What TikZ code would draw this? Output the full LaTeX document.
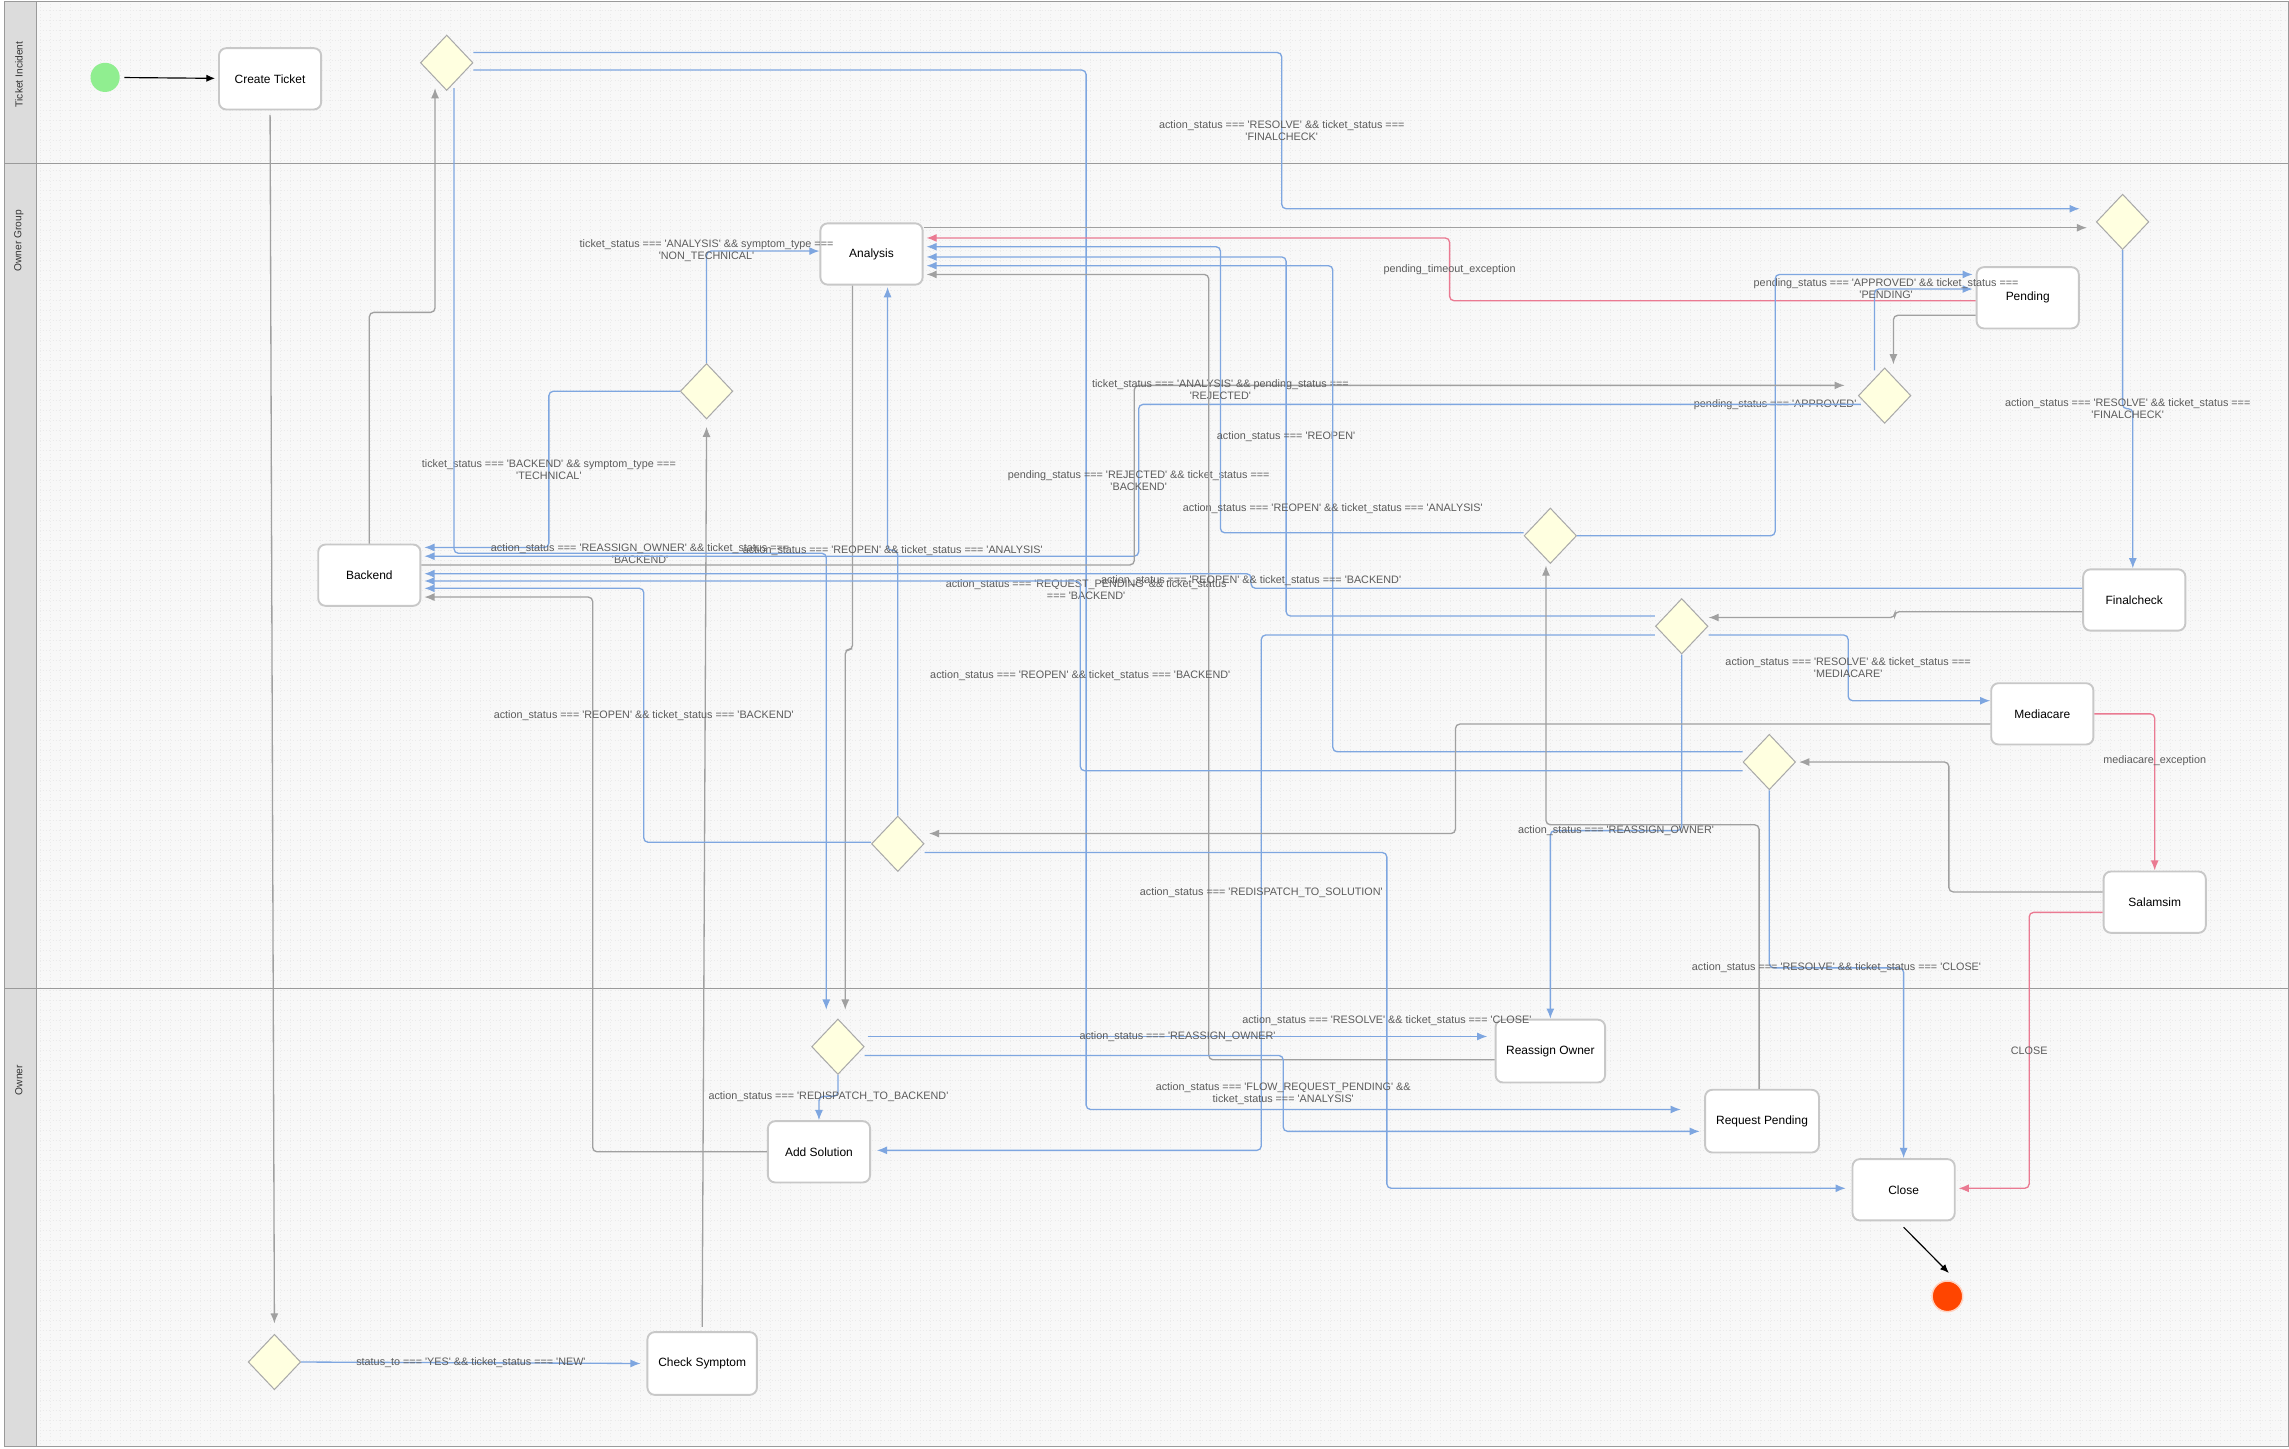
\documentclass[tikz,border=0pt]{standalone}
\usepackage{fontspec}
\setmainfont{Liberation Sans}
\usetikzlibrary{shapes.geometric,arrows.meta,calc}
\definecolor{edgeblue}{HTML}{7EA6E0}
\definecolor{edgegray}{HTML}{A0A0A0}
\definecolor{edgered}{HTML}{EA7A92}
\definecolor{labelgray}{HTML}{5C5C5C}
\definecolor{choicefill}{HTML}{FFFFE0}
\definecolor{choiceline}{HTML}{A9A9A9}
\definecolor{stateline}{HTML}{C8C8C8}
\definecolor{lanefill}{HTML}{DCDCDC}
\definecolor{laneline}{HTML}{9A9A9A}
\definecolor{canvas}{HTML}{F8F8F8}
\definecolor{startgreen}{HTML}{90EE90}
\definecolor{endred}{HTML}{FF4500}
\newcommand\sqt[1]{\textquotesingle#1\textquotesingle}
\newcommand\lblsize{\fontsize{7.4}{8.3}\selectfont}

\tikzset{
  state/.style={draw=stateline, line width=1.3pt, fill=white, rounded corners=5pt,
    minimum width=70pt, minimum height=42pt, inner sep=0pt, font=\fontsize{8.2}{9}\selectfont},
  choice/.style={diamond, draw=choiceline, line width=0.7pt, fill=choicefill,
    minimum width=36pt, minimum height=38pt, inner sep=0pt},
  lanetext/.style={rotate=90, font=\fontsize{7}{8}\selectfont, text=black!80},
  lbl/.style={font=\lblsize, text=labelgray, align=center, inner sep=0pt},
  gridline/.style={step=6.85pt, draw=black!8, line width=0.3pt, dash pattern=on 0.5pt off 1.7pt},
  bedge/.style={draw=edgeblue, line width=0.9pt, rounded corners=3pt, -{Latex[length=7pt,width=5.5pt]}},
  gedge/.style={draw=edgegray, line width=0.9pt, rounded corners=3pt, -{Latex[length=7pt,width=5.5pt]}},
  redge/.style={draw=edgered, line width=0.9pt, rounded corners=3pt, -{Latex[length=7pt,width=5.5pt]}},
  kedge/.style={draw=black, line width=0.8pt, -{Latex[length=6pt,width=5pt]}},
}

\begin{document}
\begin{tikzpicture}[x=1pt,y=-1pt]
        \useasboundingbox (0,0) rectangle (1568,992);
        \fill[white] (0,0) rectangle (1568,992);
        \fill[canvas] (3,1) rectangle (1568,991);
        \draw[gridline] (25,1) grid (1568,991);

        % swimlanes
        \draw[laneline, line width=0.8pt, fill=lanefill] (3,1) rectangle (25,112);
        \draw[laneline, line width=0.8pt, fill=lanefill] (3,112) rectangle (25,677);
        \draw[laneline, line width=0.8pt, fill=lanefill] (3,677) rectangle (25,991);
        \draw[laneline, line width=0.8pt] (3,1) rectangle (1568,991);
        \draw[laneline, line width=0.8pt] (25,112) -- (1568,112);
        \draw[laneline, line width=0.8pt] (25,677) -- (1568,677);
        \node[lanetext] (laneticket) at (13,51) {Ticket Incident};
        \node[lanetext] (lanegroup) at (13,165) {Owner Group};
        \node[lanetext] (laneowner) at (13,740) {Owner};

        % states
        \node[circle, fill=startgreen, minimum size=20pt, inner sep=0pt] (start) at (72,53) {};
        \node[state] (ct) at (185,54) {Create Ticket};
        \node[state] (analysis) at (597,174) {Analysis};
        \node[state] (pending) at (1389,204) {Pending};
        \node[state] (backend) at (253,394) {Backend};
        \node[state] (finalcheck) at (1462,411) {Finalcheck};
        \node[state] (mediacare) at (1399,489) {Mediacare};
        \node[state] (salamsim) at (1476,618) {Salamsim};
        \node[state, minimum width=75pt, minimum height=43pt] (reassign) at (1062,720) {Reassign Owner};
        \node[state] (addsol) at (561,789) {Add Solution};
        \node[state, minimum width=78pt, minimum height=43pt] (reqpend) at (1207,768) {Request Pending};
        \node[state] (close) at (1304,815) {Close};
        \node[state, minimum width=75pt, minimum height=43pt] (checksym) at (481,934) {Check Symptom};
        \node[circle, fill=endred, draw=endred!25, line width=1pt, minimum size=21pt, inner sep=0pt] (stop) at (1334,888) {};

        % choices
        \node[choice] (d1) at (306,43) {};
        \node[choice] (dfc) at (1454,152) {};
        \node[choice] (dsym) at (484,268) {};
        \node[choice] (dpend) at (1291,271) {};
        \node[choice] (dan) at (1062,367) {};
        \node[choice] (dfin) at (1152,429) {};
        \node[choice] (dmed) at (1212,522) {};
        \node[choice] (dbe) at (615,578) {};
        \node[choice] (down) at (574,717) {};
        \node[choice] (dnew) at (188,933) {};

        % transitions
        \draw[kedge, shorten <=3pt, shorten >=2pt] (start) -- (ct);
        \draw[gedge, shorten <=3pt, shorten >=7pt] (ct.south) -- (dnew.north);
        \draw[bedge] (dnew.east) -- node[lbl]{status\_to === \sqt{YES} \&\& ticket\_status === \sqt{NEW}} ($(checksym.west)+(-4,0)$);
        \draw[gedge, shorten <=3pt] (checksym.north) -- ($(dsym.south)+(0,5)$);
        \draw[bedge] (dsym.north) -- (484,172) node[lbl]{ticket\_status === \sqt{ANALYSIS} \&\& symptom\_type ===\\\sqt{NON\_TECHNICAL}} -- ($(analysis.west)+(0,-2)$);
        \draw[bedge] (dsym.west) -- (376,268) -- node[lbl]{ticket\_status === \sqt{BACKEND} \&\& symptom\_type ===\\\sqt{TECHNICAL}} (376,375) -- ($(backend.east)+(2,-19)$);
        \draw[gedge] (backend.north) -- (253,214) -- (298,214) -- ($(d1.south)+(-8,-2)$);
        \draw[bedge] ($(d1.east)+(0,-7)$) -- (878,36) -- node[lbl]{action\_status === \sqt{RESOLVE} \&\& ticket\_status ===\\\sqt{FINALCHECK}} (878,143) -- ($(dfc.west)+(-11,-9)$);
        \draw[bedge] ($(d1.east)+(0,5)$) -- (744,48) -- node[lbl]{action\_status === \sqt{REQUEST\_PENDING} \&\& ticket\_status\\=== \sqt{BACKEND}} (744,760) -- ($(reqpend.west)+(-16,-8)$);
        \draw[bedge] ($(d1.south)+(5,-2)$) -- (311,379) -- node[lbl]{action\_status === \sqt{REASSIGN\_OWNER} \&\& ticket\_status ===\\\sqt{BACKEND}} (566,379) -- ($(down.north)+(-8,-6)$);
        \draw[gedge] ($(analysis.south)+(-13,0)$) -- (584,445) -- (579,445) -- ($(down.north)+(5,-6)$);
        \draw[gedge] ($(analysis.east)+(0,-18)$) -- ($(dfc.west)+(-6,4)$);
        \draw[redge] ($(pending.west)+(0,2)$) -- (993,206) -- node[lbl]{pending\_timeout\_exception} (993,163) -- ($(analysis.east)+(2,-11)$);
        \draw[gedge] ($(pending.west)+(0,12)$) -- (1297,216) -- ($(dpend.north)+(6,-2)$);
        \draw[bedge] ($(dpend.north)+(-7,2)$) -- (1284,198) node[lbl, xshift=8pt]{pending\_status === \sqt{APPROVED} \&\& ticket\_status ===\\\sqt{PENDING}} -- ($(pending.west)+(-2,-6)$);
        \draw[bedge] (dan.east) -- (1216,367) -- node[lbl]{pending\_status === \sqt{APPROVED}} (1216,188) -- ($(pending.west)+(-2,-16)$);
        \draw[bedge] ($(dpend.west)+(2,6)$) -- (780,277) -- node[lbl]{pending\_status === \sqt{REJECTED} \&\& ticket\_status ===\\\sqt{BACKEND}} (780,381) -- ($(backend.east)+(2,-13)$);
        \draw[gedge] ($(backend.east)+(0,-7)$) -- (777,387) -- (777,264) -- ($(dpend.west)+(-9,-7)$);
        \draw[bedge] ($(dan.west)+(0,-2)$) -- (836,365) -- node[lbl]{ticket\_status === \sqt{ANALYSIS} \&\& pending\_status ===\\\sqt{REJECTED}} (836,169) -- ($(analysis.east)+(2,-5)$);
        \draw[bedge] ($(dfin.west)+(0,-7)$) -- (881,422) -- node[lbl]{action\_status === \sqt{REOPEN}} (881,176) -- ($(analysis.east)+(2,2)$);
        \draw[bedge] ($(dmed.west)+(0,-7)$) -- (913,515) -- node[lbl]{action\_status === \sqt{REOPEN} \&\& ticket\_status === \sqt{ANALYSIS}} (913,182) -- ($(analysis.east)+(2,8)$);
        \draw[gedge] ($(reassign.west)+(0,6)$) -- (828,726) -- (828,188) -- ($(analysis.east)+(2,14)$);
        \draw[gedge] ($(reqpend.north)+(-2,0)$) -- (1205,565) -- (1059,565) -- ($(dan.south)+(-3,1)$);
        \draw[bedge] (dfin.south) -- (1152,569) -- node[lbl]{action\_status === \sqt{REASSIGN\_OWNER}} (1062,569) -- (reassign.north);
        \draw[bedge] ($(dfin.west)+(0,6)$) -- (864,435) -- node[lbl]{action\_status === \sqt{REDISPATCH\_TO\_SOLUTION}} (864,788) -- ($(addsol.east)+(4,-1)$);
        \draw[bedge] ($(dfin.east)+(0,6)$) -- (1266,435) -- node[lbl]{action\_status === \sqt{RESOLVE} \&\& ticket\_status ===\\\sqt{MEDIACARE}} (1266,480) -- ($(mediacare.west)+(0,-9)$);
        \draw[gedge] ($(finalcheck.west)+(0,8)$) -- (1298,419) -- (1298,423) -- ($(dfin.east)+(0,-6)$);
        \draw[bedge] ($(finalcheck.west)+(0,-8)$) -- (857,403) -- node[lbl]{action\_status === \sqt{REOPEN} \&\& ticket\_status === \sqt{BACKEND}} (857,393) -- ($(backend.east)+(2,-1)$);
        \draw[bedge] (dfc.south) -- (1454,280) -- node[lbl]{action\_status === \sqt{RESOLVE} \&\& ticket\_status ===\\\sqt{FINALCHECK}} (1461,280) -- ($(finalcheck.north)+(-1,0)$);
        \draw[gedge] ($(mediacare.west)+(0,7)$) -- (997,496) -- (997,571) -- ($(dbe.east)+(3,-7)$);
        \draw[redge] (mediacare.east) -- (1476,489) -- node[lbl, pos=0.3]{mediacare\_exception} (salamsim.north);
        \draw[gedge] ($(salamsim.west)+(0,-7)$) -- (1335,611) -- (1335,522) -- ($(dmed.east)+(2,0)$);
        \draw[redge] ($(salamsim.west)+(0,7)$) -- (1390,625) -- node[lbl]{CLOSE} (1390,814) -- ($(close.east)+(2,-1)$);
        \draw[bedge] (dbe.north) -- (615,377) -- node[lbl]{action\_status === \sqt{REOPEN} \&\& ticket\_status === \sqt{ANALYSIS}} (608,377) -- ($(analysis.south)+(11,1)$);
        \draw[bedge] ($(dbe.west)+(0,-1)$) -- (441,577) -- node[lbl]{action\_status === \sqt{REOPEN} \&\& ticket\_status === \sqt{BACKEND}} (441,403) -- ($(backend.east)+(2,9)$);
        \draw[bedge] ($(dbe.east)+(0,6)$) -- (950,584) -- node[lbl]{action\_status === \sqt{RESOLVE} \&\& ticket\_status === \sqt{CLOSE}} (950,814) -- ($(close.west)+(-4,-1)$);
        \draw[bedge] ($(dmed.west)+(0,6)$) -- (740,528) -- node[lbl]{action\_status === \sqt{REOPEN} \&\& ticket\_status === \sqt{BACKEND}} (740,398) -- ($(backend.east)+(2,4)$);
        \draw[bedge] (dmed.south) -- (1212,663) -- node[lbl]{action\_status === \sqt{RESOLVE} \&\& ticket\_status === \sqt{CLOSE}} (1304,663) -- (close.north);
        \draw[bedge] ($(down.east)+(2,-7)$) -- node[lbl]{action\_status === \sqt{REASSIGN\_OWNER}} ($(reassign.west)+(-5,-10)$);
        \draw[bedge] ($(down.east)+(0,6)$) -- (879,723) -- node[lbl]{action\_status === \sqt{FLOW\_REQUEST\_PENDING} \&\&\\ticket\_status === \sqt{ANALYSIS}} (879,775) -- ($(reqpend.west)+(-3,7)$);
        \draw[bedge] (down.south) -- (574,751) -- node[lbl]{action\_status === \sqt{REDISPATCH\_TO\_BACKEND}} (561,751) -- (addsol.north);
        \draw[gedge] (addsol.west) -- (406,789) -- (406,409) -- ($(backend.east)+(2,15)$);
        \draw[kedge] ($(close.south)+(0,4)$) -- ($(stop.north)+(1,-5)$);
    \end{tikzpicture}
\end{document}
